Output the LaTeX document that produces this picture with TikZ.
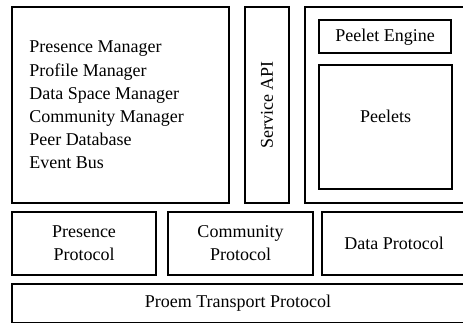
\documentclass[tikz,border=0pt]{standalone}
\usepackage{fontspec}
\setmainfont{Liberation Serif}
\begin{document}
\begin{tikzpicture}[x=0.75pt,y=-0.75pt,
  box/.style={draw,line width=1.3pt,inner sep=0pt},
  lbl/.style={font=\fontsize{13.5}{17.4}\selectfont,align=center,inner sep=0pt}]
\clip (0,0) rectangle (463,324);
\fill[white] (0,0) rectangle (463,324);
% top row
\draw[box] (12,7) rectangle (229,203);
\node[lbl,anchor=west,align=left] (mgr) at (29,105) {Presence Manager\\Profile Manager\\Data Space Manager\\Community Manager\\Peer Database\\Event Bus};
\draw[box] (245,7) rectangle (289,203);
\node[lbl,rotate=90] (api) at (267,105) {Service API};
\draw[box] (305,7) rectangle (475,203);
\draw[box] (319,20) rectangle (451,53);
\node[lbl] (engine) at (385,37) {Peelet Engine};
\draw[box] (319,65) rectangle (452,189);
\node[lbl] (peelets) at (385.5,116) {Peelets};
% protocols
\draw[box] (12,212) rectangle (156,275);
\node[lbl] (pres) at (84,243.5) {Presence\\Protocol};
\draw[box] (168,212) rectangle (313,275);
\node[lbl] (comm) at (240.5,243.5) {Community\\Protocol};
\draw[box] (322,212) rectangle (475,275);
\node[lbl] (data) at (394,243.5) {Data Protocol};
% transport
\draw[box] (12,284) rectangle (475,322.5);
\node[lbl] (proem) at (238,303) {Proem Transport Protocol};
\end{tikzpicture}
\end{document}
